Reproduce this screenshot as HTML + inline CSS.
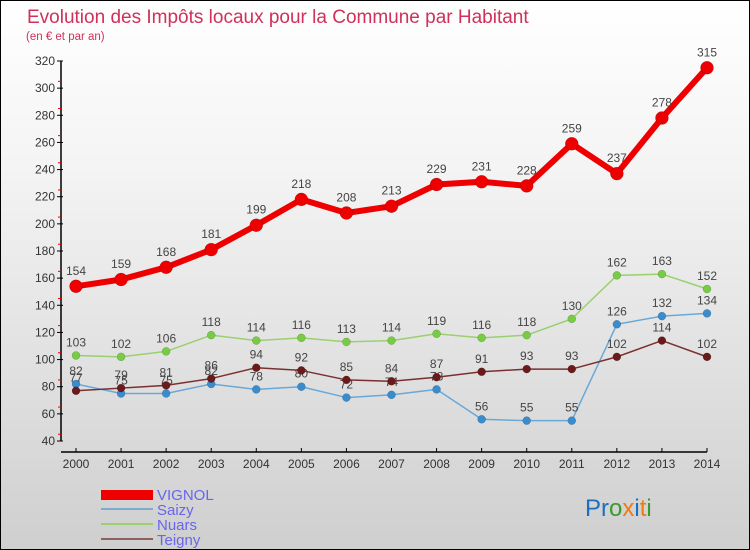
<!DOCTYPE html>
<html><head><meta charset="utf-8"><style>
body{margin:0}
#c{width:748px;height:548px;border:1px solid #000;background:linear-gradient(#fff,#f4f4f4 30%,#cfcfcf);position:relative;overflow:hidden;font-family:"Liberation Sans",sans-serif}
</style></head><body>
<div id="c">
<svg id="s" width="748" height="548" xmlns="http://www.w3.org/2000/svg" style="position:absolute;left:0;top:0">
<text x="26" y="22" font-size="19" fill="#d0305a">Evolution des Impôts locaux pour la Commune par Habitant</text>
<text x="25" y="39" font-size="11.5" fill="#d0305a">(en € et par an)</text>
<g id="axes"></g><g id="series"></g>
<g>
<rect x="100" y="489" width="52" height="10" fill="#e00"/>
<text x="156" y="499" font-size="15" fill="#6666ee">VIGNOL</text>
<rect x="100" y="507" width="52" height="2" fill="#7aaccc"/>
<text x="156" y="514" font-size="15" fill="#6666ee">Saizy</text>
<rect x="100" y="522" width="52" height="2" fill="#99d070"/>
<text x="156" y="529" font-size="15" fill="#6666ee">Nuars</text>
<rect x="100" y="537" width="52" height="2" fill="#8c6060"/>
<text x="156" y="544" font-size="15" fill="#6666ee">Teigny</text>
</g>
<text x="584" y="515" font-size="24"><tspan fill="#1a6fc0">Pr</tspan><tspan fill="#3a9a30">o</tspan><tspan fill="#f07a10">x</tspan><tspan fill="#1a6fc0">i</tspan><tspan fill="#f07a10">t</tspan><tspan fill="#3a9a30">i</tspan></text>
</svg>
</div>
<script>
const years=[2000,2001,2002,2003,2004,2005,2006,2007,2008,2009,2010,2011,2012,2013,2014];
const vignol=[154,159,168,181,199,218,208,213,229,231,228,259,237,278,315];
const saizy=[82,75,75,82,78,80,72,74,78,56,55,55,126,132,134];
const nuars=[103,102,106,118,114,116,113,114,119,116,118,130,162,163,152];
const teigny=[77,79,81,86,94,92,85,84,87,91,93,93,102,114,102];
const yTicks=[40,60,80,100,120,140,160,180,200,220,240,260,280,300,320];
const NS="http://www.w3.org/2000/svg";
const xS=i=>75+i*(706-75)/(years.length-1);
const yS=v=>440-(v-40)*380/280;
function mk(tag,attrs,parent){const e=document.createElementNS(NS,tag);for(const k in attrs)e.setAttribute(k,attrs[k]);parent.appendChild(e);return e;}
const ax=document.getElementById('axes');
const yl=mk('line',{x1:60,y1:yS(320),x2:60,y2:440,stroke:'#000','stroke-width':1.5},ax);


const xl=mk('line',{x1:60,y1:451,x2:706,y2:451,stroke:'#000','stroke-width':1.5},ax);


yTicks.forEach((t,i)=>{
 const y=yS(t);
 mk('line',{x1:56,y1:y,x2:62,y2:y,stroke:'#000'},ax);
 if(i<yTicks.length-1){mk('line',{x1:57,y1:y-6.8,x2:60,y2:y-6.8,stroke:'#e00'},ax);}
 const tx=mk('text',{x:54,y:y+4,'font-size':12,'text-anchor':'end',fill:'#333'},ax);
 tx.textContent=t;
 
 
});
years.forEach((yr,i)=>{
 const x=xS(i);
 mk('line',{x1:x,y1:447,x2:x,y2:451,stroke:'#000'},ax);
 const tx=mk('text',{x:x,y:467,'font-size':12,'text-anchor':'middle',fill:'#333'},ax);
 tx.textContent=yr;
 
 
});
const sg=document.getElementById('series');
function draw(data,name,color,dot,w,r){
 const g=mk('g',{},sg);
 
 
 const pts=data.map((v,i)=>xS(i)+','+yS(v)).join(' ');
 mk('polyline',{points:pts,fill:'none',stroke:color,'stroke-width':w,'stroke-linejoin':'round'},g);
 data.forEach((v,i)=>{
  const c=mk('circle',{cx:xS(i),cy:yS(v),r:r,fill:dot,stroke:'rgba(0,0,0,0.25)','stroke-width':0.5},g);
  
  
  const t=mk('text',{x:xS(i),y:yS(v)-(r+5),'font-size':12,'text-anchor':'middle',fill:'#444'},g);
  t.textContent=v;
  
  
 });
}
draw(nuars,'nuars','#99d070','#77cc44',1.5,4);
draw(saizy,'saizy','#6aa8d8','#3a8ccc',1.5,4);
draw(teigny,'teigny','#7a3030','#6a1a1a',1.5,4);
draw(vignol,'vignol','#ee0000','#ee0000',6,6.5);
</script>
</body></html>
